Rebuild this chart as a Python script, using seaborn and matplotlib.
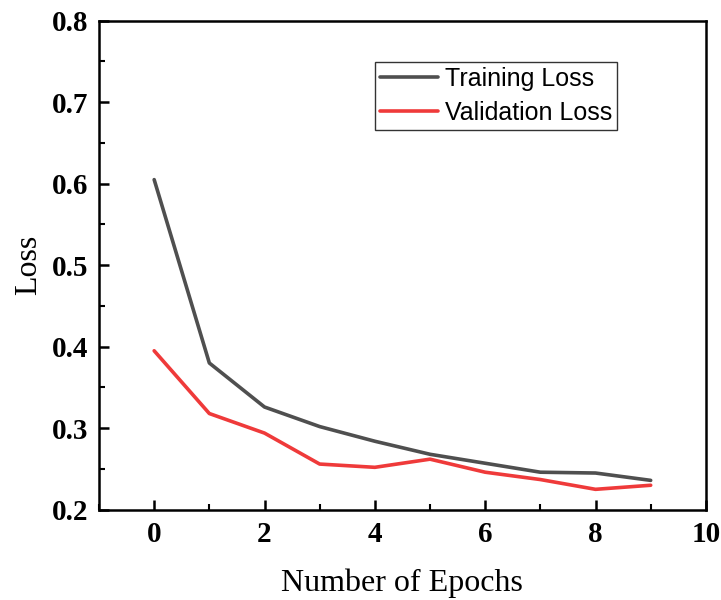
import numpy as np
import pandas as pd
import matplotlib
matplotlib.use("Agg")
import matplotlib.pyplot as plt
from matplotlib.ticker import MultipleLocator, FormatStrFormatter
import seaborn as sns

epochs = [0, 1, 2, 3, 4, 5, 6, 7, 8, 9]
training_loss = [0.605, 0.380, 0.326, 0.302, 0.284, 0.268, 0.257, 0.246, 0.245, 0.236]
validation_loss = [0.395, 0.318, 0.294, 0.256, 0.252, 0.262, 0.246, 0.237, 0.225, 0.230]
series_names = ["Training Loss", "Validation Loss"]
series_colors = ["#4f4f4f", "#ef3a3a"]

df = pd.DataFrame({
    "epoch": epochs * 2,
    "loss": training_loss + validation_loss,
    "series": [series_names[0]] * len(epochs) + [series_names[1]] * len(epochs),
})

sns.set_style("ticks")
plt.rcParams["font.family"] = ["Liberation Serif", "DejaVu Serif"]
plt.rcParams["text.color"] = "black"
plt.rcParams["axes.labelcolor"] = "black"
plt.rcParams["xtick.color"] = "black"
plt.rcParams["ytick.color"] = "black"

fig = plt.figure(figsize=(7.21, 6.0), dpi=100)
ax = fig.add_axes([0.1373, 0.1505, 0.8417, 0.815])

sns.lineplot(data=df, x="epoch", y="loss", hue="series",
             palette=dict(zip(series_names, series_colors)),
             linewidth=2.6, ax=ax)

ax.set_xlim(-1, 10)
ax.set_ylim(0.2, 0.8)
ax.xaxis.set_major_locator(MultipleLocator(2))
ax.xaxis.set_minor_locator(MultipleLocator(1))
ax.yaxis.set_major_locator(MultipleLocator(0.1))
ax.yaxis.set_minor_locator(MultipleLocator(0.05))
ax.yaxis.set_major_formatter(FormatStrFormatter("%.1f"))

for side in ["left", "right", "top", "bottom"]:
    ax.spines[side].set_visible(True)
    ax.spines[side].set_linewidth(1.8)
    ax.spines[side].set_color("black")

ax.tick_params(which="major", direction="in", length=7, width=1.8,
               top=False, right=False, labelsize=21, pad=8,
               colors="black", labelcolor="black")
ax.tick_params(which="minor", direction="in", length=4, width=1.5,
               top=False, right=False, colors="black")
for lab in ax.get_xticklabels() + ax.get_yticklabels():
    lab.set_fontweight("bold")

ax.set_xlabel("Number of Epochs", fontsize=23, labelpad=15, color="black")
ax.set_ylabel("Loss", fontsize=23, labelpad=6, color="black")

handles, labels = ax.get_legend_handles_labels()
leg = ax.legend(handles, labels, loc="upper left",
                bbox_to_anchor=(375 / 721, 1 - 62 / 600),
                bbox_transform=fig.transFigure,
                prop={"family": "Liberation Sans", "size": 18},
                frameon=True, fancybox=False, edgecolor="black",
                handlelength=2.3, handletextpad=0.3, borderpad=0.2,
                labelspacing=0.4, borderaxespad=0)
leg.get_frame().set_linewidth(1.0)
for line in leg.get_lines():
    line.set_linewidth(2.6)
for txt in leg.get_texts():
    txt.set_color("black")

fig.savefig("out.png", dpi=100)
